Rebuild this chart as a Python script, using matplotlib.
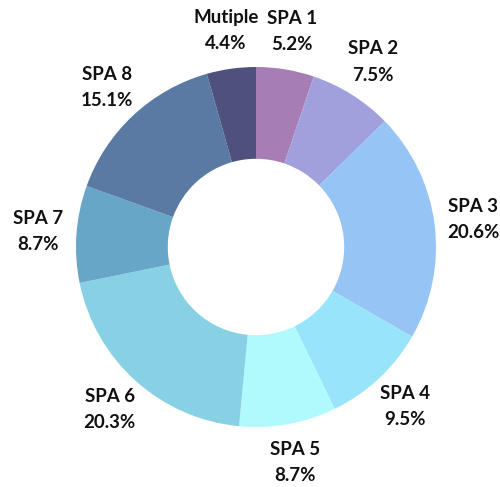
import numpy as np
import matplotlib
matplotlib.use("Agg")
import matplotlib.pyplot as plt

labels = ["SPA 1", "SPA 2", "SPA 3", "SPA 4", "SPA 5", "SPA 6", "SPA 7", "SPA 8", "Mutiple"]
values = [5.2, 7.5, 20.6, 9.5, 8.7, 20.3, 8.7, 15.1, 4.4]
colors = ["#a77db5", "#a0a0dc", "#96c4f4", "#98e4fb", "#b0fafd",
          "#88d1e4", "#68a6c7", "#5a7aa3", "#4e517c"]

R = 180.0
W, H = 500, 487
cx, cy = 256, 240  # center in px from bottom-left

fig = plt.figure(figsize=(W / 100, H / 100), dpi=100)
ax = fig.add_axes([0, 0, 1, 1])
wedges, _ = ax.pie(values, colors=colors, startangle=90, counterclock=False,
                   radius=1.0, wedgeprops=dict(width=0.51, linewidth=0),
                   )
ax.set_xlim(-cx / R, (W - cx) / R)
ax.set_ylim(-cy / R, (H - cy) / R)
ax.set_aspect("equal")
ax.axis("off")

dist = 1.215
for w, lab, v in zip(wedges, labels, values):
    ang = np.deg2rad((w.theta1 + w.theta2) / 2)
    x, y = dist * np.cos(ang), dist * np.sin(ang)
    ax.text(x, y, f"{lab}\n{v:.1f}%", ha="center", va="center",
            fontsize=13.5, fontweight="bold", family=["Lato", "DejaVu Sans"],
            color="#111111", linespacing=1.65)

fig.savefig("out.png", dpi=100)
